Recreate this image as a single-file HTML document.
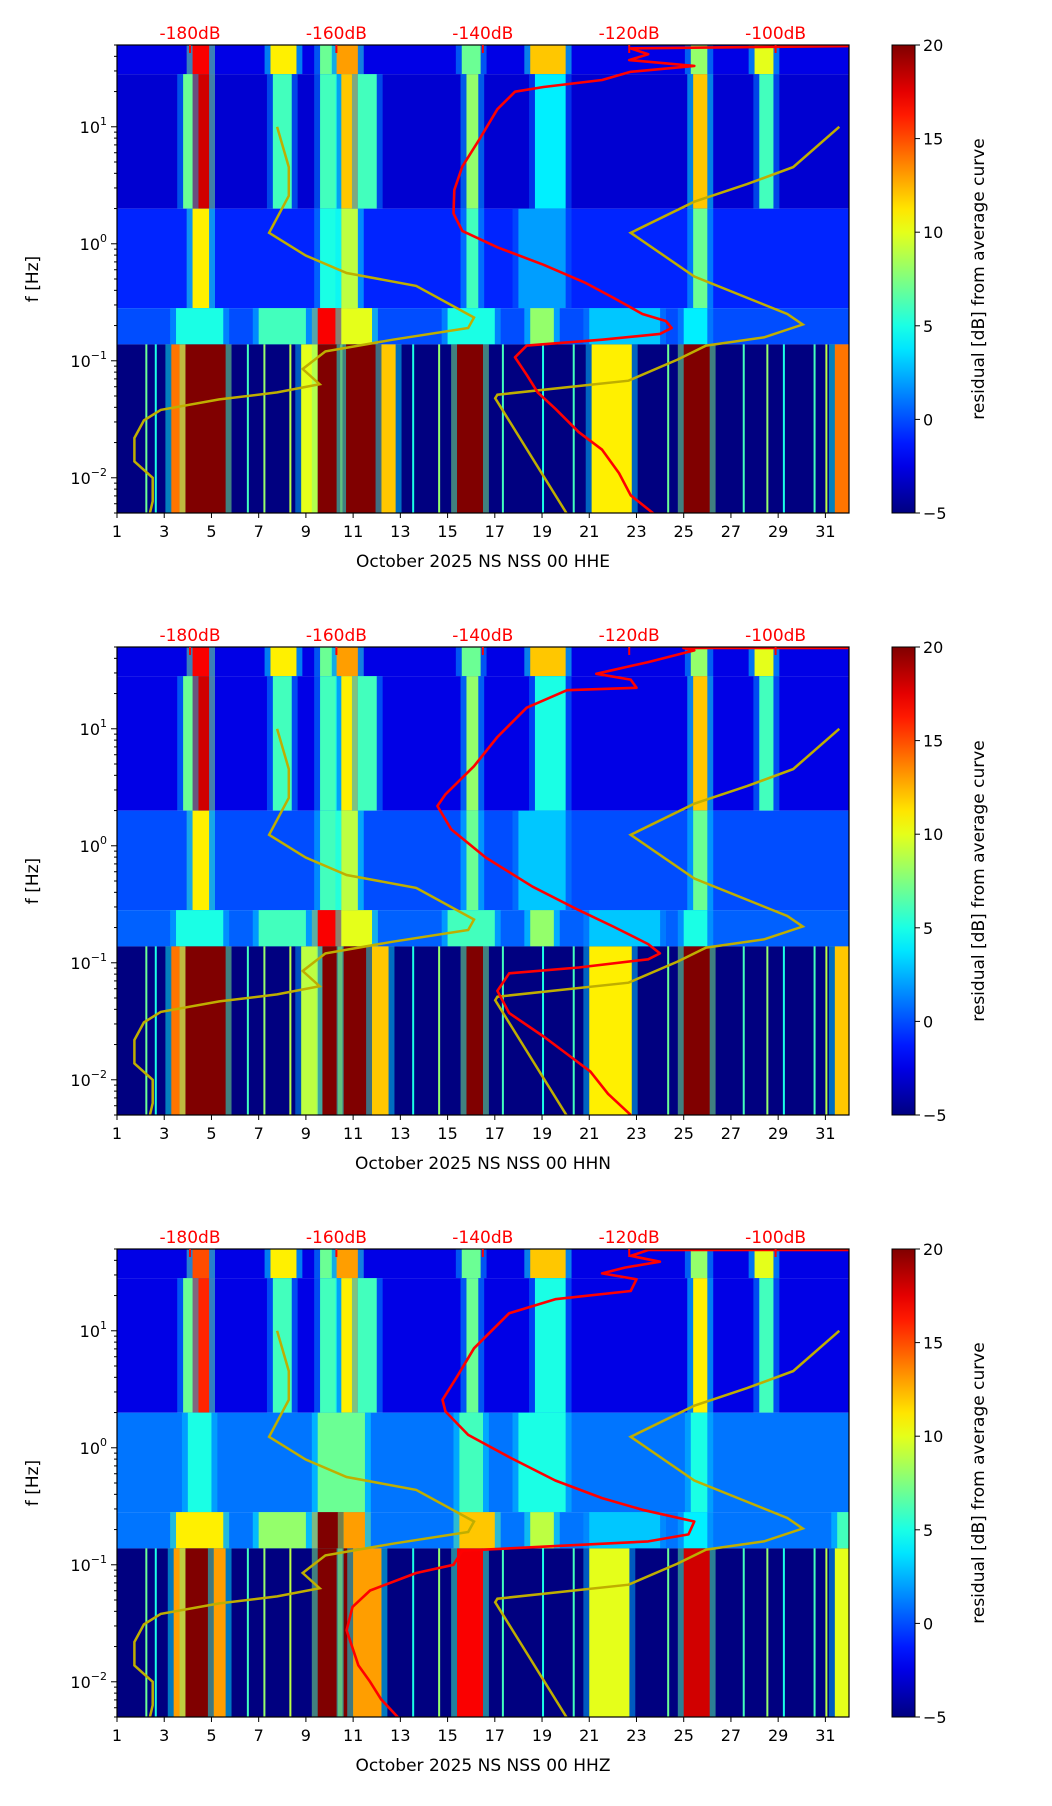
<!DOCTYPE html>
<html><head><meta charset="utf-8"><style>
body{margin:0;background:#fff}
svg{display:block;font-family:"DejaVu Sans","Liberation Sans",sans-serif}
</style></head><body>
<svg id="fig" width="1052" height="1806" viewBox="0 0 1052 1806" xmlns="http://www.w3.org/2000/svg"></svg>
<script>
// ---------- data ----------
const panelTitles = ["October 2025 NS NSS 00 HHE","October 2025 NS NSS 00 HHN","October 2025 NS NSS 00 HHZ"];
const dayTicks = [1,3,5,7,9,11,13,15,17,19,21,23,25,27,29,31];
const dbTicks = [-180,-160,-140,-120,-100];
const yTicksExp = [-2,-1,0,1];
const cbTicks = [-5,0,5,10,15,20];
// frequency bands [log10 f top, log10 f bottom]
const bands = [[1.7,1.45],[1.45,0.3],[0.3,-0.55],[-0.55,-0.86],[-0.86,-2.31]];
// band background residual (dB) per panel
const bandBg1 = [-2.5,-3,-1,0,-5];
const bandBg2 = [-2.5,-2.5,0,0.5,-5];
const bandBg3 = [-2.5,-2.5,1,1,-5];
// events: [startDay, endDay, residual dB], per band
const ev1 = [
 [[4.2,4.9,17],[7.5,8.6,11],[9.6,10.1,7],[10.3,11.2,13],[15.6,16.4,7],[18.5,20,12],[25.3,26,8],[28,28.8,10]],
 [[4.2,4.9,18],[3.8,4.2,7],[7.6,8.4,6],[9.6,10.3,6],[10.5,11.2,12],[11.2,12,6],[15.8,16.3,8],[18.7,20,4],[25.4,26,12],[28.2,28.8,6]],
 [[4.2,4.9,11],[9.6,10.5,5],[10.5,11.2,9],[15.8,16.3,6],[25.4,26,7],[18,20,2]],
 [[3.5,5.5,5],[7,9,6],[9.5,10.5,17],[10.5,11.8,10],[15,17,5],[18.5,19.5,8],[21,24,3],[25,26,4]],
 [[3.3,3.9,14],[3.9,5.6,20],[8.8,9.5,10],[9.5,10.3,20],[10.7,12.2,20],[12.2,12.8,12],[15.4,16.5,20],[21.1,22.8,11],[25,26.1,20],[31.4,32,14]]
];
const ev2 = [
 [[4.2,4.9,17],[7.5,8.6,11],[9.6,10.1,7],[10.3,11.2,13],[15.6,16.4,7],[18.5,20,12],[25.3,26,8],[28,28.8,10]],
 [[4.2,4.9,18],[3.8,4.2,7],[7.6,8.4,6],[9.6,10.3,6],[10.5,11.2,11],[11.2,12,6],[15.8,16.3,8],[18.7,20,5],[25.4,26,12],[28.2,28.8,6]],
 [[4.2,4.9,11],[9.6,10.5,6],[10.5,11.2,9],[15.8,16.3,7],[25.4,26,7],[18,20,3]],
 [[3.5,5.5,5],[7,9,6],[9.5,10.5,17],[10.5,11.8,10],[15,17,6],[18.5,19.5,8],[21,24,3],[25,26,5]],
 [[3.3,3.9,14],[3.9,5.6,20],[8.8,9.5,9],[9.7,10.3,20],[10.6,11.8,20],[11.8,12.5,12],[15.8,16.5,20],[21,22.8,11],[25,26.1,20],[31.4,32,12]]
];
const ev3 = [
 [[4.2,4.9,15],[7.5,8.6,11],[9.6,10.1,7],[10.3,11.2,13],[15.6,16.4,7],[18.5,20,12],[25.3,26,8],[28,28.8,10]],
 [[4.2,4.9,16],[3.8,4.2,7],[7.6,8.4,6],[9.6,10.3,6],[10.5,11.2,11],[11.2,12,6],[15.8,16.3,7],[18.7,20,5],[25.4,26,11],[28.2,28.8,6]],
 [[4,5,5],[9.5,11.5,7],[15.5,16.5,6],[18,20,5],[25.3,26,5]],
 [[3.5,5.5,11],[7,9,8],[9.5,10.6,20],[10.6,11.5,13],[15.5,17,12],[18.5,19.5,9],[21,24,3],[25,26,4],[31.5,32,6]],
 [[3.4,3.9,13],[3.9,5.1,20],[5.1,5.6,13],[9.5,10.3,20],[10.6,11,20],[11,12.2,13],[15.4,16.5,17],[21,22.7,10],[25,26.1,18],[31.4,32,10]]
];
// thin streaks in the low band: [day, residual dB]
const streaks = [[2.2,7],[2.6,5],[6.5,6],[7.2,8],[8.3,9],[13.5,5],[14.6,8],[17.3,6],[19,5],[20.3,6],[24.3,7],[27.5,6],[28.5,8],[29.2,5],[30.5,6],[31,9]];
// red average curve: dB values and log10(f)
const red1dB = [-89.7,-119.8,-117.4,-120,-111.1,-119.8,-123.7,-131.7,-135.6,-138.0,-140.4,-142.8,-143.9,-144.0,-142.8,-138.0,-131.7,-126.1,-122.2,-118.2,-115.0,-114.2,-115.8,-123.7,-134.0,-135.6,-134.0,-132.5,-130.1,-126.9,-123.7,-121.4,-119.8,-116.6];
const red1F = [1.69,1.67,1.62,1.57,1.52,1.47,1.40,1.34,1.30,1.15,0.90,0.66,0.46,0.26,0.11,-0.03,-0.18,-0.33,-0.46,-0.60,-0.66,-0.72,-0.77,-0.82,-0.87,-0.97,-1.12,-1.27,-1.41,-1.61,-1.76,-1.96,-2.15,-2.31];
const red2dB = [-89.7,-112.6,-111.1,-117.4,-124.5,-119.8,-119,-128.5,-134,-138,-141.2,-145.1,-146.2,-144.3,-139.6,-133.2,-126.9,-122.2,-117.4,-115.8,-117.4,-126.9,-136.4,-138,-136.4,-131.7,-128.5,-125.3,-122.9,-119.8];
const red2F = [1.69,1.69,1.67,1.57,1.47,1.42,1.35,1.33,1.18,0.93,0.68,0.44,0.34,0.14,-0.10,-0.35,-0.55,-0.69,-0.84,-0.92,-0.97,-1.04,-1.09,-1.24,-1.43,-1.63,-1.78,-1.93,-2.12,-2.30];
const red3dB = [-89.7,-117.4,-119.8,-115.8,-120.6,-123.7,-119,-119.8,-130.1,-136.4,-141.2,-143.5,-145.5,-145.1,-142,-136.4,-130.1,-123.7,-118.2,-111.1,-111.9,-117.4,-130.1,-142.8,-144,-149.1,-155.4,-157.8,-158.6,-157,-155.4,-153.9,-151.5];
const red3F = [1.69,1.69,1.64,1.59,1.54,1.49,1.44,1.34,1.27,1.15,0.85,0.61,0.41,0.31,0.11,-0.08,-0.28,-0.43,-0.53,-0.63,-0.74,-0.80,-0.84,-0.88,-1.00,-1.07,-1.22,-1.36,-1.56,-1.86,-2.00,-2.15,-2.31];
// noise models (same for all panels)
const nlnmDB = [-168.1,-166.5,-166.5,-169.2,-164.2,-158.6,-149.1,-141.2,-142.0,-152.3,-161.5,-164.6,-162.3,-168.1,-176.0,-184.0,-186.3,-187.6,-187.6,-185.1,-185.1,-185.5];
const nlnmF = [1.0,0.655,0.41,0.094,-0.10,-0.25,-0.36,-0.63,-0.72,-0.82,-0.92,-1.07,-1.20,-1.27,-1.33,-1.42,-1.51,-1.66,-1.86,-2.00,-2.20,-2.31];
const nhnmDB = [-91.3,-97.6,-103.9,-111.1,-119.8,-111.1,-98.4,-96.3,-101.6,-109.5,-113.4,-120.1,-138.0,-138.3,-128.5];
const nhnmF = [1.0,0.655,0.51,0.36,0.094,-0.28,-0.60,-0.69,-0.80,-0.87,-0.99,-1.17,-1.29,-1.32,-2.31];

const panelEv = [ev1,ev2,ev3];
const panelBg = [bandBg1,bandBg2,bandBg3];
const redDB = [red1dB,red2dB,red3dB];
const redF = [red1F,red2F,red3F];

// ---------- layout & scales ----------
const AX_L=117, AX_R=849, AX_H=468, TOPS=[45,647,1249];
const FMAX=Math.log10(50), FMIN=Math.log10(0.005);
const xDay = d => AX_L + (d-1)*(AX_R-AX_L)/31;
const xDB = db => 190 + (db+180)*7.32;
const yF = (top,lf) => top + (FMAX-lf)*AX_H/(FMAX-FMIN);
function jet(v){
  let t=Math.max(0,Math.min(1,(v+5)/25));
  const c=x=>Math.round(255*Math.max(0,Math.min(1,x)));
  return `rgb(${c(1.5-Math.abs(4*t-3))},${c(1.5-Math.abs(4*t-2))},${c(1.5-Math.abs(4*t-1))})`;
}
const NS="http://www.w3.org/2000/svg";
const svg=document.getElementById('fig');
function el(tag,attrs,parent){const e=document.createElementNS(NS,tag);for(const k in attrs)e.setAttribute(k,attrs[k]);(parent||svg).appendChild(e);return e;}
const defs=el('defs',{});

TOPS.forEach((top,p)=>{
  const g=el('g',{});
  
  
  const cp=el('clipPath',{id:'clip'+p},defs);
  el('rect',{x:AX_L,y:top,width:AX_R-AX_L,height:AX_H},cp);
  const hm=el('g',{'clip-path':`url(#clip${p})`},g);
  
  
  bands.forEach((b,bi)=>{
    const y1=yF(top,b[0]), y2=yF(top,b[1]);
    const bg=el('rect',{x:AX_L,y:y1,width:AX_R-AX_L,height:y2-y1,fill:jet(panelBg[p][bi])},hm);
    
    
    panelEv[p][bi].forEach(e=>{
      const bgv=panelBg[p][bi];
      const h=el('rect',{x:xDay(e[0]-0.25),y:y1,width:xDay(e[1]+0.25)-xDay(e[0]-0.25),height:y2-y1,fill:jet((e[2]+bgv)/2),opacity:0.5},hm);
      
      
      const r=el('rect',{x:xDay(e[0]),y:y1,width:xDay(e[1])-xDay(e[0]),height:y2-y1,fill:jet(e[2])},hm);
      
      
    });
  });
  streaks.forEach(s=>{
    const r=el('rect',{x:xDay(s[0]),y:yF(top,-0.86),width:2,height:yF(top,-2.31)-yF(top,-0.86),fill:jet(s[1])},hm);
    
    
  });
  // curves
  const pts=(dbs,fs)=>dbs.map((d,i)=>xDB(d).toFixed(1)+','+yF(top,fs[i]).toFixed(1)).join(' ');
  const l1=el('polyline',{points:pts(nlnmDB,nlnmF),fill:'none',stroke:'#bfae00',"stroke-width":2.5},hm);
  
  
  const l2=el('polyline',{points:pts(nhnmDB,nhnmF),fill:'none',stroke:'#bfae00',"stroke-width":2.5},hm);
  
  
  const l3=el('polyline',{points:pts(redDB[p],redF[p]),fill:'none',stroke:'#ff0000',"stroke-width":2.6,"stroke-linejoin":"round"},hm);
  
  
  // frame
  const fr=el('rect',{x:AX_L,y:top,width:AX_R-AX_L,height:AX_H,fill:'none',stroke:'#000',"stroke-width":1.2},g);
  
  
  // x ticks
  dayTicks.forEach(d=>{
    el('line',{x1:xDay(d),x2:xDay(d),y1:top+AX_H,y2:top+AX_H+5,stroke:'#000'},g);
    const t=el('text',{x:xDay(d),y:top+AX_H+24,"font-size":16,"text-anchor":"middle"},g);
    t.textContent=d;
    
    
  });
  const xl=el('text',{x:(AX_L+AX_R)/2,y:top+AX_H+54,"font-size":17,"text-anchor":"middle"},g);
  xl.textContent=panelTitles[p];
  
  
  // top dB ticks
  dbTicks.forEach(d=>{
    el('line',{x1:xDB(d),x2:xDB(d),y1:top,y2:top+8,stroke:'#f00',"stroke-width":2},g);
    const t=el('text',{x:xDB(d),y:top-6,"font-size":17,"text-anchor":"middle",fill:'#f00'},g);
    t.textContent=d+'dB';
    
    
  });
  // y ticks
  for(let e=-3;e<=1;e++){for(let m=1;m<10;m++){const lf=e+Math.log10(m);if(lf<FMIN||lf>FMAX)continue;
    const y=yF(top,lf);el('line',{x1:AX_L,x2:AX_L-(m==1?6:3),y1:y,y2:y,stroke:'#000'},g);}}
  yTicksExp.forEach(e=>{
    const y=yF(top,e);
    const t=el('text',{x:AX_L-10,y:y+6,"font-size":16,"text-anchor":"end"},g);
    
    
    t.appendChild(document.createTextNode('10'));
    const s=el('tspan',{dy:-8,"font-size":11},t); s.textContent=(e<0?'\u2212':'')+Math.abs(e);
  });
  const yl=el('text',{x:38,y:top+AX_H/2,"font-size":17,"text-anchor":"middle",transform:`rotate(-90 38 ${top+AX_H/2})`},g);
  yl.textContent='f [Hz]';
  
  
  // colorbar
  const gid='cbg'+p;
  const lg=el('linearGradient',{id:gid,x1:0,y1:1,x2:0,y2:0},defs);
  for(let i=0;i<=20;i++){el('stop',{offset:i/20,'stop-color':jet(-5+25*i/20)},lg);}
  const cb=el('rect',{x:892,y:top,width:23,height:AX_H,fill:`url(#${gid})`,stroke:'#000',"stroke-width":1},g);
  
  
  cbTicks.forEach(v=>{
    const y=top+AX_H-(v+5)/25*AX_H;
    el('line',{x1:915,x2:920,y1:y,y2:y,stroke:'#000'},g);
    const t=el('text',{x:923,y:y+6,"font-size":16},g);
    t.textContent=(v<0?'\u2212':'')+Math.abs(v);
    
    
  });
  const cl=el('text',{x:984,y:top+AX_H/2,"font-size":17,"text-anchor":"middle",transform:`rotate(-90 984 ${top+AX_H/2})`},g);
  cl.textContent='residual [dB] from average curve';
  
  
});
</script>
</body></html>
